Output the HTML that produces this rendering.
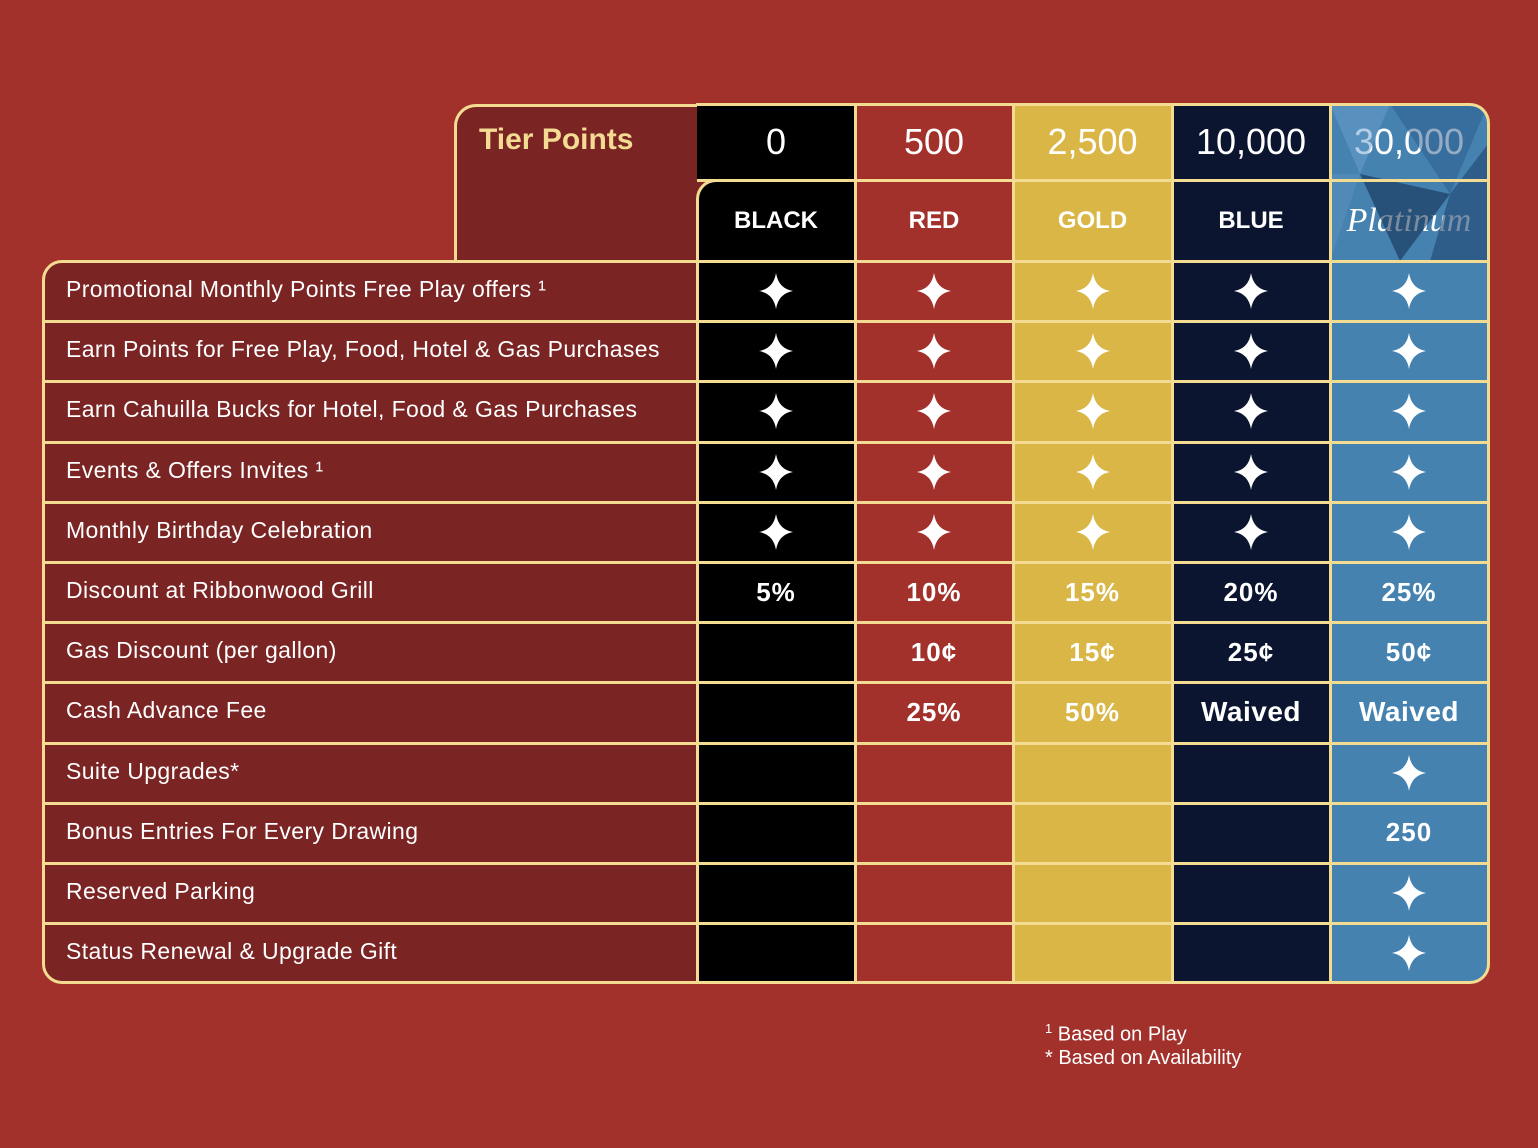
<!DOCTYPE html>
<html><head><meta charset="utf-8">
<style>
html,body{margin:0;padding:0}
body{width:1538px;height:1148px;background:#A2312C;position:relative;overflow:hidden;font-family:"Liberation Sans",sans-serif}
.c{position:absolute;box-sizing:border-box;display:flex;align-items:center;justify-content:center;color:#fff}
.ln{position:absolute;background:#F3DC92}
.lbl{justify-content:flex-start;padding-left:24px;font-size:23px;letter-spacing:0.4px}
.val{font-size:26px;font-weight:bold;letter-spacing:1px}
.foot{position:absolute;left:1045px;color:#fff;font-size:20px}
</style></head><body>
<div id="root"></div>
<div class="foot" style="top:1021px"><sup style="font-size:13px">1</sup> Based on Play</div>
<div class="foot" style="top:1047px">* Based on Availability</div>
<script>
const tiers = ["BLACK","RED","GOLD","BLUE","Platinum"];
const tierPoints = ["0","500","2,500","10,000","30,000"];
const tierColors = ["#000000","#A2312C","#D9B645","#0B1530","#4682B0"];
const benefits = ["Promotional Monthly Points Free Play offers ¹","Earn Points for Free Play, Food, Hotel & Gas Purchases","Earn Cahuilla Bucks for Hotel, Food & Gas Purchases","Events & Offers Invites ¹","Monthly Birthday Celebration","Discount at Ribbonwood Grill","Gas Discount (per gallon)","Cash Advance Fee","Suite Upgrades*","Bonus Entries For Every Drawing","Reserved Parking","Status Renewal & Upgrade Gift"];
const values = [
 ["*","*","*","*","*"],["*","*","*","*","*"],["*","*","*","*","*"],["*","*","*","*","*"],["*","*","*","*","*"],
 ["5%","10%","15%","20%","25%"],["","10¢","15¢","25¢","50¢"],["","25%","50%","Waived","Waived"],
 ["","","","","*"],["","","","","250"],["","","","","*"],["","","","","*"]];

const root=document.getElementById('root');
const colX=[697,855,1013,1172,1330,1488];
const tableL=42, hTop=104, hMid=180, hBot=261, rowH=60.2;
function div(cls,x,y,w,h,bg){const d=document.createElement('div');d.className=cls;d.style.cssText=`left:${x}px;top:${y}px;width:${w}px;height:${h}px;`+(bg?`background:${bg};`:'');root.appendChild(d);return d;}
const star='<svg width="34" height="36" viewBox="0 0 34 36"><path d="M17 0 Q19.5 15.5 34 18 Q19.5 20.5 17 36 Q14.5 20.5 0 18 Q14.5 15.5 17 0Z" fill="#fff"/></svg>';

// tier points box
let tp=div('c',454,hTop,243,hBot-hTop,'#7A2424');
tp.style.border='3px solid #F3DC92';tp.style.borderRadius='22px 0 0 0';tp.style.borderRight='none';tp.style.borderBottom='none';
tp.style.alignItems='flex-start';tp.style.justifyContent='flex-start';tp.style.padding='16px 0 0 22px';
tp.innerHTML='<span style="color:#F3DC92;font-size:30px;font-weight:bold">Tier Points</span>';



// header columns
tiers.forEach((t,i)=>{
 const x=colX[i],w=colX[i+1]-x;
 const p=div('c',x,hTop,w,hMid-hTop,tierColors[i]);
 p.style.fontSize='36px';p.textContent=tierPoints[i];
 if(i==4){p.style.borderRadius='0 20px 0 0';}
 
 
 const n=div('c',x,hMid,w,hBot-hMid,tierColors[i]);
 if(i==0){n.style.borderRadius='20px 0 0 0';n.style.background='#000';}
 if(i==4){n.innerHTML='<span style="font-family:\'Liberation Serif\',serif;font-style:italic;font-size:34px">Platinum</span>';}
 else{n.style.fontSize='24px';n.style.fontWeight='bold';n.textContent=t;}
 
 
});
// black column back fill behind inner corner (tier points box color)
const under=div('c',697,hMid,30,30,'#7A2424');under.style.zIndex='-1';
root.style.position='relative';
// platinum facets
const fac=document.createElementNS('http://www.w3.org/2000/svg','svg');
fac.setAttribute('width',158);fac.setAttribute('height',157);
fac.style.cssText='position:absolute;left:1330px;top:104px;pointer-events:none;border-radius:0 20px 0 0';
fac.innerHTML='<polygon points="0,0 60,0 30,70" fill="#6a9fcb" opacity="0.5"/><polygon points="60,0 158,0 120,90" fill="#2a5a8a" opacity="0.5"/><polygon points="30,70 120,90 70,157" fill="#0f2a4a" opacity="0.55"/><polygon points="120,90 158,40 158,157 100,157" fill="#1c446e" opacity="0.6"/><polygon points="0,70 30,70 0,157" fill="#5b8fbd" opacity="0.5"/>';


root.appendChild(fac);

// body rows
benefits.forEach((b,r)=>{
 const y=hBot+r*rowH;
 const l=div('c lbl',tableL,y,colX[0]-tableL,rowH,'#7A2424');
 l.style.alignItems='flex-start';l.style.paddingTop='15px';
 l.textContent=b;
 if(r==benefits.length-1)l.style.borderRadius='0 0 0 20px';
 if(r==0)l.style.borderRadius='20px 0 0 0';
 
 
 tiers.forEach((t,i)=>{
  const x=colX[i],w=colX[i+1]-x;
  const c=div('c val',x,y,w,rowH,tierColors[i]);
  if(r==benefits.length-1&&i==4)c.style.borderRadius='0 0 20px 0';
  const v=values[r][i];
  if(v==='*')c.innerHTML=star;else c.textContent=v;
  if(v==='Waived'){c.style.fontSize='28px';c.style.letterSpacing='0.5px';}
  
  
 });
});
const bottom=hBot+benefits.length*rowH;
// grid lines
const B=3;
function hl(x1,x2,y){const d=div('ln',x1,y-1,x2-x1,B);}
function vl(x,y1,y2){div('ln',x-1,y1,B,y2-y1);}
for(let r=1;r<benefits.length;r++)hl(tableL,colX[5],hBot+r*rowH);
hl(colX[0],colX[5],hMid);
colX.slice(1,5).forEach(x=>vl(x,hTop,bottom));
vl(colX[0],hMid+18,bottom);
// outer borders
const ob=div('c',tableL,hBot-1,colX[5]-tableL+2,bottom-hBot+2);
ob.style.border='3px solid #F3DC92';ob.style.borderRadius='20px 0 20px 20px';ob.style.pointerEvents='none';


const hb=div('c',colX[0]-1,hTop-1,colX[5]-colX[0]+3,hBot-hTop+2);
hb.style.border='3px solid #F3DC92';hb.style.borderLeft='none';hb.style.borderBottom='none';hb.style.borderRadius='0 20px 0 0';
const ic=div('c',colX[0]-1,hMid-1,40,40);
ic.style.borderTop='3px solid #F3DC92';ic.style.borderLeft='3px solid #F3DC92';ic.style.borderRadius='20px 0 0 0';
</script>
</body></html>
